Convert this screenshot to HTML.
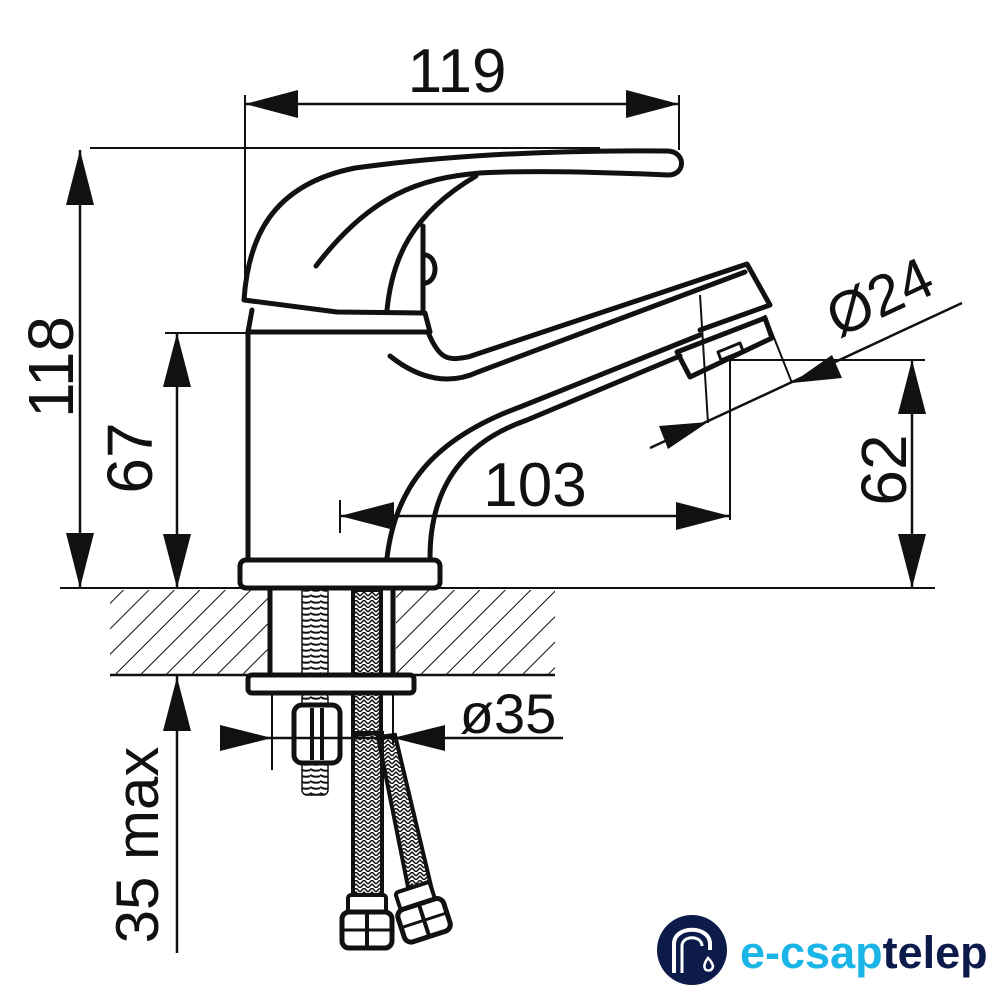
<!DOCTYPE html>
<html><head><meta charset="utf-8"><style>
html,body{margin:0;padding:0;background:#fff}
svg{display:block}
text{font-family:"Liberation Sans",sans-serif;fill:#111}
</style></head><body>
<svg width="1000" height="1000" viewBox="0 0 1000 1000" xmlns="http://www.w3.org/2000/svg">
<defs>
<pattern id="h" patternUnits="userSpaceOnUse" width="18" height="18" patternTransform="rotate(45)">
<line x1="0" y1="0" x2="0" y2="18" stroke="#111" stroke-width="2"/>
</pattern>
<pattern id="br" patternUnits="userSpaceOnUse" width="8" height="8">
<path d="M0 4 L4 0 L8 4 M0 8 L4 4 L8 8" stroke="#111" stroke-width="1.5" fill="none"/>
</pattern>
<pattern id="th" patternUnits="userSpaceOnUse" width="10" height="6">
<path d="M0 1 Q5 4 10 2" stroke="#111" stroke-width="2" fill="none"/>
</pattern>
</defs>

<!-- hatched worktop -->
<rect x="110" y="590" width="158" height="84" fill="url(#h)"/>
<rect x="396" y="590" width="159" height="84" fill="url(#h)"/>
<line x1="110" y1="675" x2="555" y2="675" stroke="#111" stroke-width="2.5"/>

<!-- baseline -->
<line x1="60" y1="588" x2="935" y2="588" stroke="#111" stroke-width="2"/>

<!-- dimension 119 -->
<line x1="245" y1="95" x2="245" y2="300" stroke="#111" stroke-width="2"/>
<line x1="679" y1="95" x2="679" y2="150" stroke="#111" stroke-width="2"/>
<line x1="245" y1="104" x2="679" y2="104" stroke="#111" stroke-width="2.5"/>
<polygon points="245,104 298,90 298,118" fill="#111"/>
<polygon points="679,104 626,90 626,118" fill="#111"/>
<text x="457" y="92" font-size="62" text-anchor="middle">119</text>

<!-- dimension 118 -->
<line x1="90" y1="148" x2="600" y2="148" stroke="#111" stroke-width="2"/>
<line x1="80" y1="150" x2="80" y2="588" stroke="#111" stroke-width="2.5"/>
<polygon points="80,150 66,205 94,205" fill="#111"/>
<polygon points="80,588 66,533 94,533" fill="#111"/>
<text transform="translate(73,367) rotate(-90)" font-size="64" text-anchor="middle">118</text>

<!-- dimension 67 -->
<line x1="165" y1="333" x2="248" y2="333" stroke="#111" stroke-width="2"/>
<line x1="177" y1="333" x2="177" y2="588" stroke="#111" stroke-width="2.5"/>
<polygon points="177,333 163,387 191,387" fill="#111"/>
<polygon points="177,588 163,534 191,534" fill="#111"/>
<text transform="translate(152,458) rotate(-90)" font-size="64" text-anchor="middle">67</text>

<!-- dimension 62 -->
<line x1="730" y1="360" x2="925" y2="360" stroke="#111" stroke-width="2"/>
<line x1="912" y1="360" x2="912" y2="588" stroke="#111" stroke-width="2.5"/>
<polygon points="912,360 898,414 926,414" fill="#111"/>
<polygon points="912,588 898,534 926,534" fill="#111"/>
<text transform="translate(906,470) rotate(-90)" font-size="64" text-anchor="middle">62</text>

<!-- dimension 103 -->
<line x1="340" y1="500" x2="340" y2="533" stroke="#111" stroke-width="2"/>
<line x1="730" y1="355" x2="730" y2="520" stroke="#111" stroke-width="2"/>
<line x1="340" y1="516" x2="730" y2="516" stroke="#111" stroke-width="2.5"/>
<polygon points="340,516 394,502 394,530" fill="#111"/>
<polygon points="730,516 676,502 676,530" fill="#111"/>
<text x="535" y="506" font-size="62" text-anchor="middle">103</text>

<!-- dimension Ø24 -->
<line x1="700" y1="295" x2="708" y2="423" stroke="#111" stroke-width="2"/>
<line x1="765" y1="315" x2="792" y2="383" stroke="#111" stroke-width="2"/>
<line x1="650" y1="448" x2="962" y2="303" stroke="#111" stroke-width="2.5"/>
<polygon points="708,422 659,426 668,449" fill="#111"/>
<polygon points="792,383 842,378 832,355" fill="#111"/>
<text transform="translate(888,315) rotate(-25)" font-size="58" text-anchor="middle">Ø24</text>

<!-- faucet body -->
<g fill="none" stroke="#111" stroke-width="5" stroke-linejoin="round" stroke-linecap="round">
<path d="M244,300 C248,240 270,185 355,168 C450,155 560,150 668,151 C686,152 686,175 668,175 C600,172 530,170 480,173 C420,178 370,195 316,266"/>
<path d="M244,300 L337,312 L423,313 L423,226"/>
<path d="M387,310 C392,260 410,215 476,176"/>
<path d="M426,255 C438,258 438,280 426,283"/>
<path d="M252,310 L248,332 L430,332 L425,313"/>
<line x1="248" y1="332" x2="248" y2="560"/>
<path d="M428,332 C440,362 450,360 468,357 L747,264 L770,305 L700,330"/>
<path d="M390,356 C420,380 450,385 478,372 L745,272"/>
<path d="M677,352 L765,318 L772,338 L690,377 Z"/>
<path d="M718,352 L740,343 L743,351 L721,360 Z" stroke-width="3"/>
<path d="M387,558 C395,490 430,440 520,407 L700,335"/>
<path d="M430,558 C430,480 470,440 527,420 L680,356"/>
<rect x="240" y="560" width="200" height="28" rx="6"/>
</g>

<!-- shank -->
<g stroke="#111" fill="none" stroke-width="5">
<line x1="270" y1="590" x2="270" y2="675"/>
<line x1="393" y1="590" x2="393" y2="675"/>
<rect x="248" y="675" width="166" height="18" rx="4"/>
</g>
<line x1="272" y1="693" x2="272" y2="770" stroke="#111" stroke-width="2"/>
<line x1="393" y1="693" x2="393" y2="745" stroke="#111" stroke-width="2"/>
<rect x="302" y="590" width="26" height="85" fill="url(#th)" stroke="#111" stroke-width="1.5"/>
<rect x="302" y="693" width="26" height="102" rx="5" fill="url(#th)" stroke="#111" stroke-width="1.5"/>
<rect x="294" y="705" width="46" height="58" rx="8" fill="#fff" stroke="#111" stroke-width="5"/>
<line x1="312" y1="708" x2="312" y2="760" stroke="#111" stroke-width="4"/>
<line x1="322" y1="708" x2="322" y2="760" stroke="#111" stroke-width="4"/>
<rect x="353" y="590" width="28" height="85" fill="url(#br)" stroke="#111" stroke-width="4"/>
<rect x="353" y="693" width="28" height="40" fill="url(#br)" stroke="#111" stroke-width="4"/>
<path d="M353,735 L382,733 L382,900 L353,900 Z" fill="url(#br)" stroke="#111" stroke-width="4"/>
<path d="M378,737 L395,735 L432,890 L410,897 Z" fill="url(#br)" stroke="#111" stroke-width="4"/>
<rect x="348" y="895" width="38" height="18" rx="3" fill="#fff" stroke="#111" stroke-width="4"/>
<rect x="342" y="912" width="50" height="36" rx="7" fill="#fff" stroke="#111" stroke-width="5"/>
<line x1="367" y1="914" x2="367" y2="946" stroke="#111" stroke-width="4"/>
<line x1="344" y1="930" x2="390" y2="930" stroke="#111" stroke-width="3"/>
<g transform="rotate(-18 425 920)">
<rect x="405" y="885" width="36" height="18" rx="3" fill="#fff" stroke="#111" stroke-width="4"/>
<rect x="400" y="903" width="48" height="34" rx="7" fill="#fff" stroke="#111" stroke-width="5"/>
<line x1="424" y1="905" x2="424" y2="935" stroke="#111" stroke-width="4"/>
<line x1="402" y1="920" x2="446" y2="920" stroke="#111" stroke-width="3"/>
</g>

<!-- dimension ø35 -->
<line x1="220" y1="738" x2="563" y2="738" stroke="#111" stroke-width="2.5"/>
<polygon points="272,738 220,725 220,751" fill="#111"/>
<polygon points="393,738 445,725 445,751" fill="#111"/>
<text x="508" y="733" font-size="56" text-anchor="middle">ø35</text>

<!-- dimension 35 max -->
<line x1="177" y1="675" x2="177" y2="953" stroke="#111" stroke-width="2.5"/>
<polygon points="177,677 163,731 191,731" fill="#111"/>
<text transform="translate(158,845) rotate(-90)" font-size="60" text-anchor="middle">35 max</text>

<!-- logo -->
<circle cx="692" cy="950" r="35" fill="#0d1b4b"/>
<path d="M674,973 L674,944 C674,925 710,925 710,944 L710,950" fill="none" stroke="#fff" stroke-width="4"/>
<path d="M682,973 L682,946 C682,935 702,935 702,946" fill="none" stroke="#fff" stroke-width="3"/>
<path d="M708,958 Q702,966 706,970 Q712,972 713,966 Q712,962 708,958Z" fill="none" stroke="#fff" stroke-width="2.5"/>
<text x="740" y="968" font-size="45" font-weight="bold"><tspan fill="#1ab4e6">e-csap</tspan><tspan fill="#0d1b4b">telep</tspan></text>
</svg>
</body></html>
